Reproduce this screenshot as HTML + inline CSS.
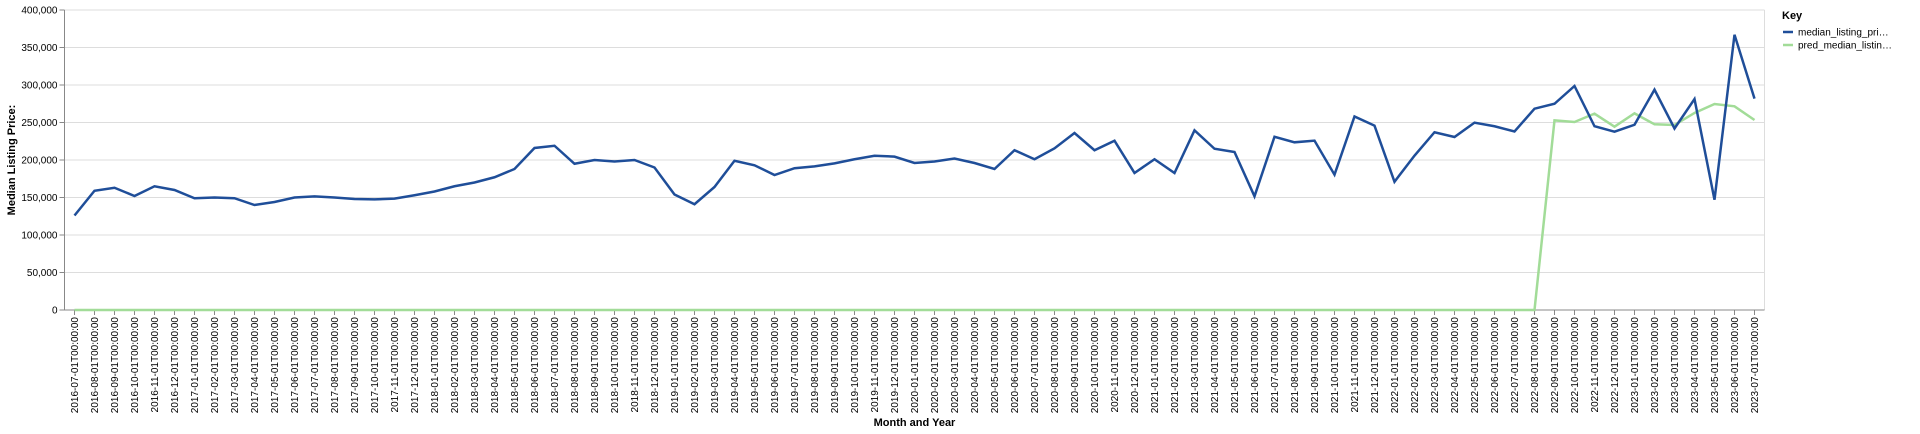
<!DOCTYPE html>
<html><head><meta charset="utf-8"><style>
body{margin:0;background:#fff;}
svg{display:block;font-family:"Liberation Sans",Arial,sans-serif;}
</style></head><body>
<svg id="chart" width="1920" height="434" xmlns="http://www.w3.org/2000/svg"></svg>
<script>
const months = [];
for (let y = 2016, m = 7; !(y === 2023 && m === 8); ) {
  months.push(y + '-' + String(m).padStart(2,'0') + '-01T00:00:00');
  m++; if (m > 12) { m = 1; y++; }
}
const actualValues = [126,159,163,152,165,160,149,150,149,140,144,150,151.5,150,148,147.5,148.5,153,158,165,170,177,188,216,219,195,200,198,200,190,154,141,164,199,193,180,189,191.5,195.5,201,205.7,204.5,196,198,202,196,188,213,201,215.5,236,213,225.7,182.7,201,182.7,239.6,215,210.7,151.6,231,223.6,225.8,180.4,258,245.8,171,205.8,237,230.7,249.8,245,238,268.4,275,298.7,245,237.8,247,293.8,242,281.3,147,367,281.8];
const predValues = [];
for (let i = 0; i < 74; i++) predValues.push(0);
predValues.push(252.9,250.7,261.8,244.4,262.2,247.6,246.7,262.7,274.7,271.6,253.3);
const yTicks = [0,50000,100000,150000,200000,250000,300000,350000,400000];
const seriesNames = ['median_listing_pri…','pred_median_listin…'];
const seriesColors = ['#1f4e99','#a2dc98'];

const NS='http://www.w3.org/2000/svg';
const svg=document.getElementById('chart');
const L=64.5,R=1764.5,T=10,B=310;
const band=(R-L)/months.length;
const xs=i=>L+band*(i+0.5);
const ys=v=>B-(v/400000)*(B-T);
function mk(tag,attrs,parent){const e=document.createElementNS(NS,tag);for(const k in attrs)e.setAttribute(k,attrs[k]);(parent||svg).appendChild(e);return e;}

const grid=mk('g',{});


yTicks.forEach(t=>{
  mk('line',{x1:L,x2:R,y1:ys(t),y2:ys(t),stroke:'#ddd','stroke-width':1},grid);
});
mk('line',{x1:L,x2:R,y1:T,y2:T,stroke:'#ddd'},grid);
mk('line',{x1:R,x2:R,y1:T,y2:B,stroke:'#ddd'},grid);

const yAxis=mk('g',{});


mk('line',{x1:L,x2:L,y1:T,y2:B,stroke:'#888'},yAxis);
yTicks.forEach(t=>{
  mk('line',{x1:L-5,x2:L,y1:ys(t),y2:ys(t),stroke:'#888'},yAxis);
  const tx=mk('text',{x:L-7,y:ys(t)+3.5,'text-anchor':'end','font-size':10,fill:'#000'},yAxis);
  
  
  tx.textContent=t.toLocaleString('en-US');
});
const yt=mk('text',{transform:'translate(15,160) rotate(-90)','text-anchor':'middle','font-size':11,'font-weight':'bold'});


yt.textContent='Median Listing Price:';

const xAxis=mk('g',{});


mk('line',{x1:L,x2:R,y1:B,y2:B,stroke:'#888'},xAxis);
months.forEach((mo,i)=>{
  mk('line',{x1:xs(i),x2:xs(i),y1:B,y2:B+5,stroke:'#888'},xAxis);
  const tx=mk('text',{transform:`translate(${xs(i)+3.5},${B+7}) rotate(-90)`,'text-anchor':'end','font-size':10},xAxis);
  
  
  tx.textContent=mo;
});
const xt=mk('text',{x:(L+R)/2,y:426,'text-anchor':'middle','font-size':11,'font-weight':'bold'});


xt.textContent='Month and Year';

function line(vals,color,name){
  const d=vals.map((v,i)=>(i?'L':'M')+xs(i).toFixed(2)+','+ys(v*1000).toFixed(2)).join('');
  const p=mk('path',{d,fill:'none',stroke:color,'stroke-width':2.5,'stroke-linejoin':'miter'});
  
  
}
line(predValues,seriesColors[1],'pred-median-listing-price-line');
line(actualValues,seriesColors[0],'median-listing-price-line');

const lg=mk('g',{});


const kt=mk('text',{x:1782,y:19,'font-size':11,'font-weight':'bold'},lg);


kt.textContent='Key';
seriesNames.forEach((n,i)=>{
  const g=mk('g',{},lg);
  
  
  mk('line',{x1:1783,x2:1793,y1:32+13*i,y2:32+13*i,stroke:seriesColors[i],'stroke-width':2.5},g);
  const t=mk('text',{x:1798,y:35.5+13*i,'font-size':10},g);
  t.textContent=n;
});
</script>
</body></html>
